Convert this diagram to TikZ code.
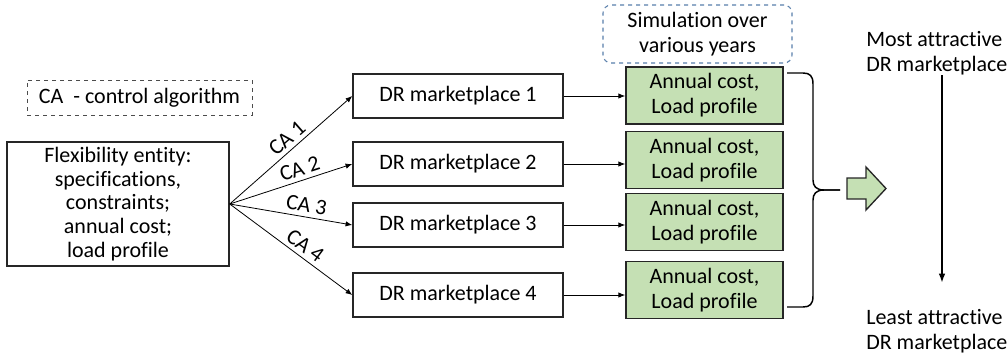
\documentclass[tikz,border=0pt]{standalone}
\usepackage{fontspec}
\setmainfont{Carlito}[Ligatures=NoCommon]
\usetikzlibrary{arrows.meta}

\definecolor{resgreen}{RGB}{197,224,180}
\definecolor{simblue}{RGB}{88,126,170}

\begin{document}
\begin{tikzpicture}[x=0.75pt,y=-0.75pt,
  every node/.style={font=\fontsize{16.5}{18.75}\selectfont},
  market/.style={rectangle,draw=black!85,line width=1.1pt,minimum width=157.5pt,minimum height=33pt,inner sep=0pt},
  result/.style={rectangle,draw=black!85,fill=resgreen,line width=1.3pt,minimum width=117.75pt,minimum height=42.75pt,inner sep=0pt,align=center},
  link/.style={-{Latex[length=5pt,width=4pt]},line width=0.6pt},
  rank/.style={-{Latex[length=7pt,width=5pt]},line width=1.5pt}
]

\useasboundingbox (0,0) rectangle (1007,355);

\node[draw=black!70,dashed,line width=0.6pt,minimum width=168.75pt,minimum height=26.25pt,inner sep=0pt] (legend) at (139.5,97.5) {CA\ \ - control algorithm};

\node[market,minimum width=166.5pt,minimum height=93pt,align=center,font=\fontsize{16.5}{17.8}\selectfont] (fe) at (118,204) {Flexibility entity:\\specifications,\\constraints;\\annual cost;\\load profile};

\node[draw=simblue,dashed,rounded corners=6pt,line width=0.8pt,minimum width=141.75pt,minimum height=43.5pt,inner sep=0pt,align=center] (sim) at (697.5,34) {Simulation over\\various years};

\foreach \i/\y/\ry/\p in {1/96/95.5/0.53, 2/164/160/0.6, 3/225/222/0.61, 4/295/290/0.56} {
  \node[market] (dr\i) at (458,\y) {DR marketplace \i};
  \node[result] (res\i) at (704.5,\ry) {Annual cost,\\Load profile};
  \draw[link] (fe.east) -- node[sloped,above,pos=\p,inner sep=3pt] {CA \i} (dr\i.west);
  \draw[link] (dr\i.east) -- (dr\i.east -| res\i.west);
}

\draw[line width=1.1pt] (787,73) -- (803,73) .. controls (810,73) and (813,76) .. (813,84) -- (813,180) .. controls (813,186) and (816,190) .. (824,190) -- (840,190);
\draw[line width=1.1pt] (840,190) -- (824,190) .. controls (816,190) and (813,194) .. (813,200) -- (813,296) .. controls (813,304) and (810,307) .. (803,307) -- (787,307);

\draw[fill=resgreen,draw=black!85,line width=1pt] (847,178) -- (866,178) -- (866,167) -- (886,188.5) -- (866,210) -- (866,199) -- (847,199) -- cycle;

\node[anchor=west,align=left,inner sep=0pt] (top) at (866,53) {Most attractive\\DR marketplace};
\node[anchor=west,align=left,inner sep=0pt] (bottom) at (866,331) {Least attractive\\DR marketplace};
\coordinate (hi) at (942,75);
\coordinate (lo) at (942,283);
\draw[rank] (hi) -- (lo);

\end{tikzpicture}
\end{document}
